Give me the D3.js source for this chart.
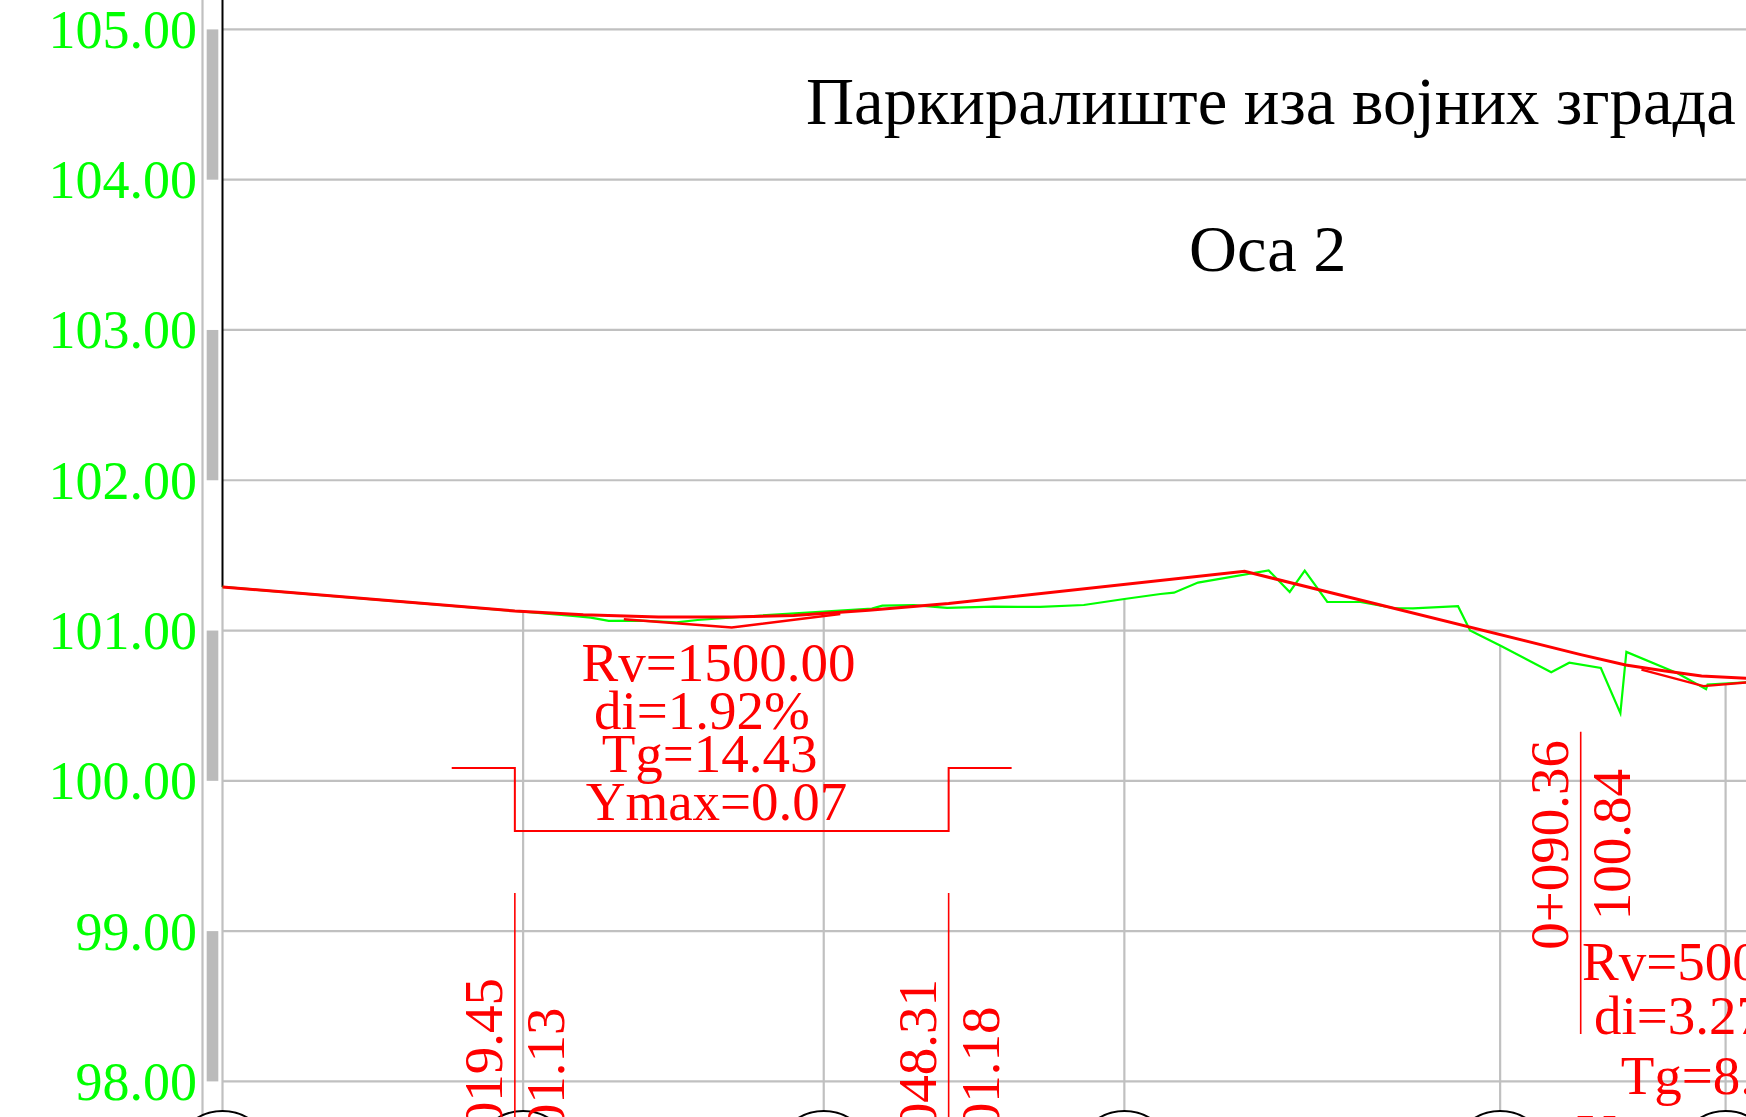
<!DOCTYPE html>
<html>
<head>
<meta charset="utf-8">
<script src="https://cdn.jsdelivr.net/npm/d3@7"></script>
<style>
  html, body { margin: 0; padding: 0; background: #fff; overflow: hidden; }
  svg { display: block; font-family: "Liberation Serif", serif; }
</style>
</head>
<body>
<svg id="chart" width="1746" height="1117"></svg>
<script>
// elevation ticks and the stations that get a vertical grid line (m)
const elevationTicks = [98, 99, 100, 101, 102, 103, 104, 105];
const shadedBands = [[104, 105], [102, 103], [100, 101], [98, 99]];
const stationTicks = [0, 20, 40, 60, 85, 100];

// terrain, station / elevation
const groundStation = [0, 19.45, 23.3, 24.5, 25.7, 27.8, 30.2, 31.6, 34.4, 35.8, 40, 43.2, 43.9, 46, 48.2, 51.3, 54.4, 57.3, 60, 62.4, 63.3, 64.9, 69.6, 71, 72, 73.5, 75.7, 77.9, 79.2, 82.2, 83, 83.7, 85, 88.4, 89.6, 91.7, 93, 93.4, 96.8, 98.7, 98.8, 101.4];
const groundElev = [101.29, 101.13, 101.097, 101.086, 101.064, 101.066, 101.055, 101.07, 101.09, 101.10, 101.126, 101.146, 101.166, 101.169, 101.151, 101.159, 101.157, 101.17, 101.21, 101.243, 101.252, 101.319, 101.40, 101.257, 101.398, 101.19, 101.19, 101.15, 101.148, 101.162, 101.0, 100.966, 100.90, 100.723, 100.786, 100.751, 100.45, 100.858, 100.716, 100.61, 100.64, 100.655];

// design grade line
const gradeStation = [0, 19.45, 24, 29, 33.88, 38, 43, 48.31, 68, 90.36, 93.35, 95.87, 98.4, 101.4];
const gradeElev = [101.29, 101.13, 101.105, 101.09, 101.09, 101.10, 101.135, 101.18, 101.394, 100.84, 100.771, 100.733, 100.698, 100.683];

// tangents below the vertical curves
const tangentAStation = [26.7, 33.88, 41.1];
const tangentAElev = [101.075, 101.02, 101.11];
const tangentBStation = [94.4, 98.53, 101.4];
const tangentBElev = [100.74, 100.63, 100.655];

// vertical curve bracket
const bracketStation = [15.25, 19.45, 19.45, 48.31, 48.31, 52.5];
const bracketElev = [100.086, 100.086, 99.666, 99.666, 100.086, 100.086];

const curveStations = ['0+019.45', '0+048.31', '0+090.36'];
const curveElevations = ['101.13', '101.18', '100.84'];
const curveStationValues = [19.45, 48.31, 90.36];

const curveOneLines = ['Rv=1500.00', 'di=1.92%', 'Tg=14.43', 'Ymax=0.07'];
const curveTwoLines = ['Rv=500.00', 'di=3.27%', 'Tg=8.17', 'Ymax=0.07'];

const titleText = 'Паркиралиште иза војних зграда';
const subtitleText = 'Оса 2';

const GREEN = '#00ff00';
const RED = '#ff0000';
const GRID = '#c0c0c0';

const svg = d3.select('#chart');
const width = 1746;
const height = 1117;

const x = d3.scaleLinear().domain([0, 100]).range([222.5, 1725.6]);
const y = d3.scaleLinear().domain([98, 105]).range([1081.4, 29.4]);

// horizontal grid
svg.selectAll('.hgrid')
  .data(elevationTicks)
  .enter()
  .append('line')
  .attr('class', 'hgrid')
  .attr('x1', x(0))
  .attr('x2', width)
  .attr('y1', d => y(d))
  .attr('y2', d => y(d))
  .attr('stroke', GRID)
  .attr('stroke-width', 2.2);

// station lines run from the bottom up to the terrain
const groundAt = s => {
  const i = d3.bisectLeft(groundStation, s);
  if (groundStation[i] === s) return groundElev[i];
  const t = (s - groundStation[i - 1]) / (groundStation[i] - groundStation[i - 1]);
  return groundElev[i - 1] + t * (groundElev[i] - groundElev[i - 1]);
};

svg.selectAll('.vgrid')
  .data(stationTicks)
  .enter()
  .append('line')
  .attr('class', 'vgrid')
  .attr('x1', d => x(d))
  .attr('x2', d => x(d))
  .attr('y1', d => y(groundAt(d)))
  .attr('y2', height)
  .attr('stroke', GRID)
  .attr('stroke-width', 2.2);

// left rule and shaded scale bars
svg.append('line')
  .attr('x1', 202.5).attr('x2', 202.5)
  .attr('y1', 0).attr('y2', height)
  .attr('stroke', GRID).attr('stroke-width', 2.2);

svg.selectAll('.band')
  .data(shadedBands)
  .enter()
  .append('rect')
  .attr('class', 'band')
  .attr('x', 206.7)
  .attr('width', 11.6)
  .attr('y', d => y(d[1]))
  .attr('height', d => y(d[0]) - y(d[1]))
  .attr('fill', '#bbbbbb');

svg.append('line')
  .attr('x1', x(0)).attr('x2', x(0))
  .attr('y1', 0).attr('y2', y(groundElev[0]))
  .attr('stroke', '#000').attr('stroke-width', 2);

// elevation labels
const yAxis = svg.append('g')
  .attr('transform', 'translate(197,0)')
  .call(d3.axisLeft(y).tickValues(elevationTicks).tickFormat(d => d.toFixed(2)).tickSize(0).tickPadding(0));
yAxis.select('.domain').remove();
yAxis.selectAll('text')
  .attr('x', 0)
  .attr('dy', 18)
  .attr('text-anchor', 'end')
  .attr('fill', GREEN)
  .style('font-family', '"Liberation Serif", serif')
  .style('font-size', '54px');

// station circles, cut by the bottom of the sheet
svg.selectAll('.bubble')
  .data(stationTicks)
  .enter()
  .append('circle')
  .attr('class', 'bubble')
  .attr('cx', d => x(d))
  .attr('cy', 1160)
  .attr('r', 49)
  .attr('fill', '#fff')
  .attr('stroke', '#000')
  .attr('stroke-width', 2);

const line = d3.line().x(d => x(d[0])).y(d => y(d[1]));
const drawLine = (stations, elevs, color, w) => svg.append('path')
  .datum(d3.zip(stations, elevs))
  .attr('fill', 'none')
  .attr('stroke', color)
  .attr('stroke-width', w)
  .attr('d', line);

drawLine(groundStation, groundElev, GREEN, 2.2);
drawLine(tangentAStation, tangentAElev, RED, 2.4);
drawLine(tangentBStation, tangentBElev, RED, 2.4);
drawLine(gradeStation, gradeElev, RED, 3);
drawLine(bracketStation, bracketElev, RED, 2);

// curve start / end markers
const markerTop = [893, 893, 731.7];
const markerBottom = [height, height, 1034];
svg.selectAll('.marker')
  .data(curveStationValues)
  .enter()
  .append('line')
  .attr('class', 'marker')
  .attr('x1', d => x(d))
  .attr('x2', d => x(d))
  .attr('y1', (d, i) => markerTop[i])
  .attr('y2', (d, i) => markerBottom[i])
  .attr('stroke', RED)
  .attr('stroke-width', 1.6);

const rotated = (text, px, py) => svg.append('text')
  .attr('transform', `translate(${px},${py}) rotate(-90)`)
  .attr('text-anchor', 'end')
  .attr('fill', RED)
  .style('font-size', '55px')
  .text(text);

rotated(curveStations[0], 502, 978);
rotated(curveElevations[0], 564, 1007.5);
rotated(curveStations[1], 935.7, 979);
rotated(curveElevations[1], 999, 1006.5);
rotated(curveStations[2], 1568, 740);
rotated(curveElevations[2], 1630, 769);

// curve parameter blocks
const blockOneX = [718.5, 702, 709.6, 716.5];
const blockOneY = [681.2, 729, 772, 820];
svg.selectAll('.block-one')
  .data(curveOneLines)
  .enter()
  .append('text')
  .attr('class', 'block-one')
  .attr('x', (d, i) => blockOneX[i])
  .attr('y', (d, i) => blockOneY[i])
  .attr('text-anchor', 'middle')
  .attr('fill', RED)
  .style('font-size', '55px')
  .text(d => d);

const blockTwoX = [1582, 1594, 1620.7, 1577];
const blockTwoY = [980, 1034, 1094, 1152];
svg.selectAll('.block-two')
  .data(curveTwoLines)
  .enter()
  .append('text')
  .attr('class', 'block-two')
  .attr('x', (d, i) => blockTwoX[i])
  .attr('y', (d, i) => blockTwoY[i])
  .attr('fill', RED)
  .style('font-size', '55px')
  .text(d => d);

// title
svg.append('text')
  .attr('x', 806)
  .attr('y', 123.5)
  .attr('fill', '#000')
  .style('font-size', '66.6px')
  .text(titleText);

svg.append('text')
  .attr('x', 1189)
  .attr('y', 271)
  .attr('fill', '#000')
  .style('font-size', '66.4px')
  .text(subtitleText);
</script>
</body>
</html>
